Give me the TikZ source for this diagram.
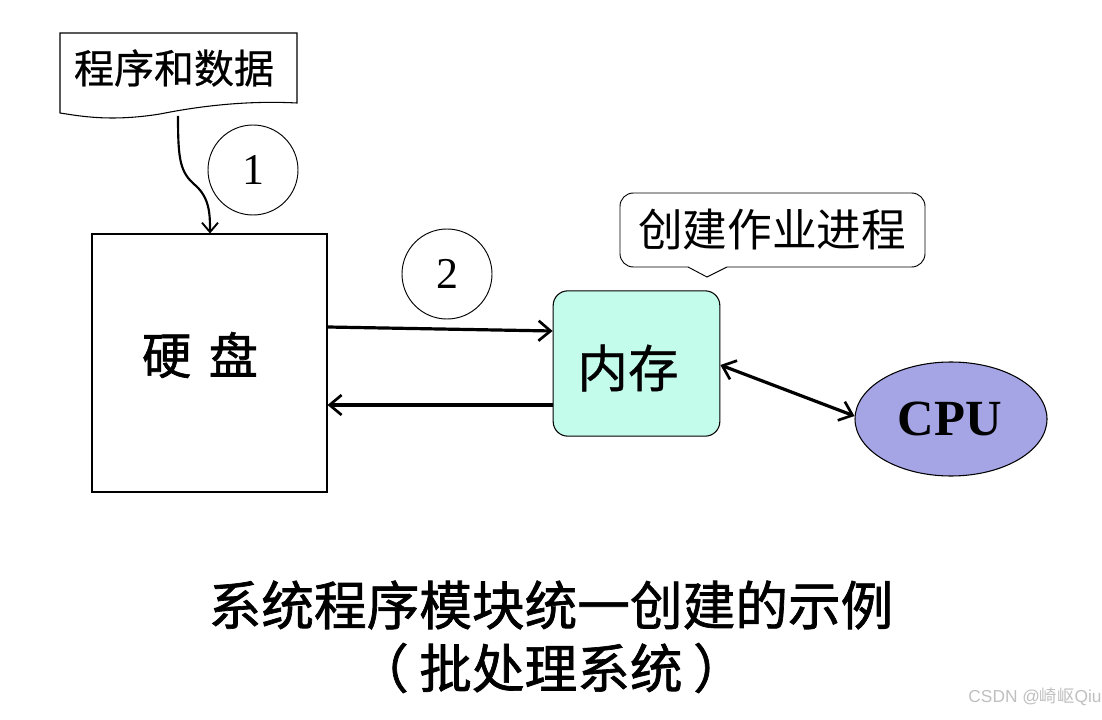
\documentclass[tikz,border=0pt]{standalone}
\usepackage{fontspec}
\setmainfont{Liberation Serif}
\newfontfamily\cjk{Noto Sans CJK SC}
\newfontfamily\cjkb[FakeBold=1.3]{Noto Sans CJK SC}
\newfontfamily\cjkm[FakeBold=0.6]{Noto Sans CJK SC}
\usetikzlibrary{arrows.meta,shapes.geometric}
\definecolor{memfill}{HTML}{C4FCEC}
\definecolor{cpufill}{HTML}{A5A5E6}
\tikzset{
  thinline/.style={draw=black,line width=0.8pt},
  bigarrow/.style={line width=2.4pt,-{Straight Barb[length=9pt,width=15pt,line width=2pt]}},
  dblarrow/.style={line width=2.4pt,{Straight Barb[length=9pt,width=15pt,line width=2pt]}-{Straight Barb[length=9pt,width=15pt,line width=2pt]}},
  numcircle/.style={circle,draw=black,line width=0.7pt,minimum size=67.5pt,inner sep=0pt,font=\fontsize{33}{36}\selectfont},
}
\begin{document}
\begin{tikzpicture}[x=0.75pt,y=-0.75pt]
\useasboundingbox (0,0) rectangle (1102,720);
% document shape
\draw[thinline] (60,33) -- (297,33) -- (297,103)
  .. controls (240,100) and (190,108) .. (160,114)
  .. controls (110,122) and (80,116) .. (60,113) -- cycle;
\node (doc) at (174,68) {\cjkm\fontsize{30}{34}\selectfont 程序和数据};
\coordinate (docb) at (178,116);
% disk
\node[thinline,draw,minimum width=176.25pt,minimum height=193.5pt,inner sep=0pt] (disk) at (209.5,363) {};
\node (disktext) at (200,355) {\cjkb\fontsize{37}{40}\selectfont 硬\hspace{0.35em}盘};
% curved arrow
\draw[line width=1.6pt,-{Straight Barb[length=7pt,width=12pt,line width=1.4pt]}] (docb)
  .. controls (178,160) and (180,172) .. (195,185)
  .. controls (210,198) and (210,215) .. (disk.north -| 210,0);
% circles
\node[numcircle] (c1) at (253,170) {1};
\node[numcircle] (c2) at (447,274) {2};
% memory
\node[draw=black,line width=0.8pt,fill=memfill,rounded corners=11pt,minimum width=125pt,minimum height=109pt,inner sep=0pt] (mem) at (636.5,363.5) {};
\node (memtext) at (628,368) {\cjkm\fontsize{38}{40}\selectfont 内存};
% arrows disk <-> memory
\draw[bigarrow] (disk.east |- 0,327) -- (mem.west |- 0,331);
\draw[bigarrow] (mem.west |- 0,405) -- (disk.east |- 0,405);
% callout
\draw[line width=0.7pt,rounded corners=10pt] (688,267) -- (620,267) -- (620,193) -- (925,193) -- (925,267) -- (727,267);
\draw[line width=0.7pt] (688,267) -- (707,277) -- (727,267);
\node (callout) at (772,230) {\cjk\fontsize{33.5}{36}\selectfont 创建作业进程};
% CPU
\node[ellipse,draw=black,line width=0.8pt,fill=cpufill,minimum width=144pt,minimum height=85.5pt,inner sep=0pt] (cpu) at (951,419) {};
\node (cputext) at (950,419) {\bfseries\fontsize{38}{40}\selectfont CPU};
\draw[dblarrow] (mem.east |- 0,365) -- (cpu.west |- 0,416);
% caption
\node (cap1) at (551,605) {\cjkb\fontsize{39.5}{42}\selectfont 系统程序模块统一创建的示例};
\node (cap2) at (551,668) {\cjkb\fontsize{39.5}{42}\selectfont （\hspace{0.2em}批处理系统\hspace{0.2em}）};
% watermark
\node[text=black!25] (wm) at (1035,697) {\fontspec{Liberation Sans}\fontsize{13}{15}\selectfont CSDN @{\cjk 崎岖}Qiu};
\end{tikzpicture}
\end{document}
